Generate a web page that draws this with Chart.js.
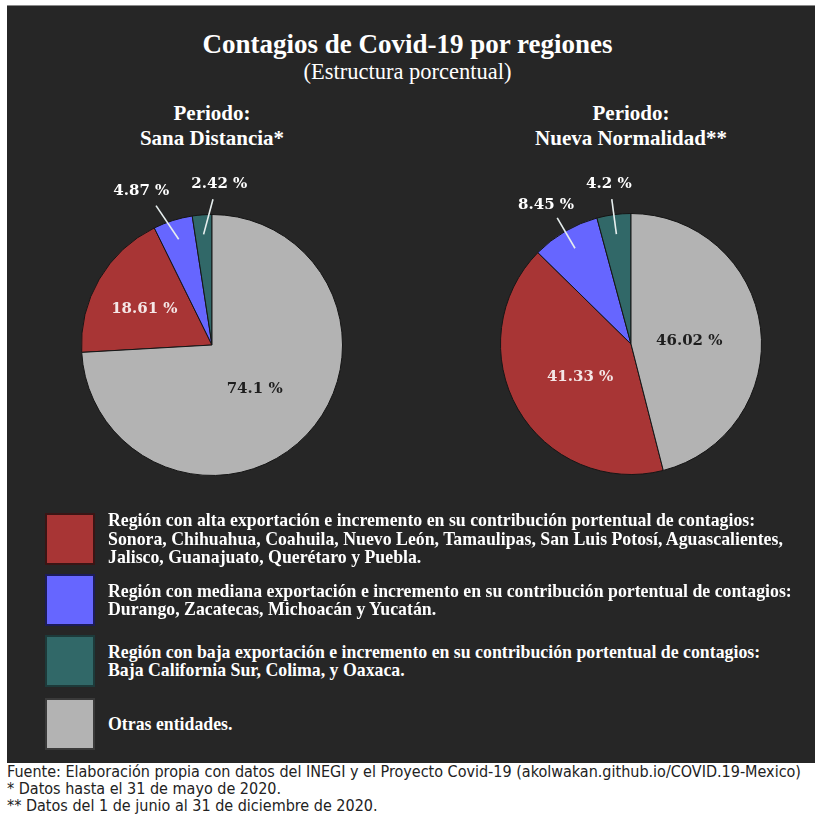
<!DOCTYPE html>
<html>
<head>
<meta charset="utf-8">
<script src="https://cdn.jsdelivr.net/npm/chart.js@4"></script>
<style>
  body { margin: 0; background: #fff; width: 815px; height: 822px; position: relative; overflow: hidden; }
  #panel { position: absolute; left: 7px; top: 5px; width: 808px; height: 757px; background: #262626; border-top: 1px solid #8a8a8a; }
  .t { position: absolute; color: #fff; font-family: "Liberation Serif", serif; font-weight: bold; text-align: center; white-space: nowrap; }
  canvas { position: absolute; }
  .sw { position: absolute; left: 45px; width: 50px; height: 52px; box-sizing: border-box; }
  .lg { position: absolute; left: 108px; height: 54px; display: flex; align-items: center; color: #fff;
        font-family: "Liberation Serif", serif; font-weight: bold; font-size: 17.8px; line-height: 18.5px; white-space: nowrap; }
  .foot { position: absolute; left: 7px; color: #222; font-family: "Liberation Sans Narrow", "DejaVu Sans Condensed", sans-serif; font-size: 16px; white-space: nowrap; }
</style>
</head>
<body>
<div id="panel"></div>
<div class="t" style="left:0;width:815px;top:29px;font-size:27px;">Contagios de Covid-19 por regiones</div>
<div class="t" style="left:0;width:815px;top:59px;font-size:22.5px;font-weight:normal;">(Estructura porcentual)</div>
<div class="t" style="left:62px;width:300px;top:101px;font-size:21px;line-height:25px;">Periodo:<br>Sana Distancia*</div>
<div class="t" style="left:481px;width:300px;top:101px;font-size:21px;line-height:25px;">Periodo:<br>Nueva Normalidad**</div>
<canvas id="c1" width="340" height="340" style="left:42px;top:175px;width:340px;height:340px;"></canvas>
<canvas id="c2" width="340" height="340" style="left:461px;top:174px;width:340px;height:340px;"></canvas>
<div id="legend"></div>
<div class="foot" style="top:762px;">Fuente: Elaboración propia con datos del INEGI y el Proyecto Covid-19 (akolwakan.github.io/COVID.19-Mexico)</div>
<div class="foot" style="top:779px;">* Datos hasta el 31 de mayo de 2020.</div>
<div class="foot" style="top:796px;">** Datos del 1 de junio al 31 de diciembre de 2020.</div>
<script>
const categories = [
  'Región con alta exportación e incremento en su contribución portentual de contagios:<br>Sonora, Chihuahua, Coahuila, Nuevo León, Tamaulipas, San Luis Potosí, Aguascalientes,<br>Jalisco, Guanajuato, Querétaro y Puebla.',
  'Región con mediana exportación e incremento en su contribución portentual de contagios:<br>Durango, Zacatecas, Michoacán y Yucatán.',
  'Región con baja exportación e incremento en su contribución portentual de contagios:<br>Baja California Sur, Colima, y Oaxaca.',
  'Otras entidades.'
]
const sanaDistancia = [18.61, 4.87, 2.42, 74.1]
const nuevaNormalidad = [41.33, 8.45, 4.2, 46.02]
const colors = ['#a83535', '#6666ff', '#316868', '#b3b3b3']
const swatchBorders = ['#3a1515', '#1c1c5a', '#1d3a3a', '#3a3a3a']

// legend (html, same order as data)
const legend = document.getElementById('legend')
const legendTops = [512, 573, 634, 697]
categories.forEach((c, i) => {
  const sw = document.createElement('div')
  sw.className = 'sw'
  sw.style.top = (legendTops[i] + 1) + 'px'
  sw.style.background = colors[i]
  sw.style.border = '2px solid ' + swatchBorders[i]
  legend.appendChild(sw)
  const tx = document.createElement('div')
  tx.className = 'lg'
  tx.style.top = legendTops[i] + 'px'
  tx.innerHTML = '<div>' + c + '</div>'
  legend.appendChild(tx)
})

// percent labels: inside for big slices, outside with leader line for small ones
const pieLabels = {
  id: 'pieLabels',
  afterDatasetsDraw(chart) {
    const ctx = chart.ctx
    const meta = chart.getDatasetMeta(0)
    const values = chart.data.datasets[0].data
    ctx.save()
    ctx.font = 'bold 15px "DejaVu Serif", serif'
    ctx.textAlign = 'center'
    ctx.textBaseline = 'middle'
    const outside = []
    meta.data.forEach((arc, i) => {
      const p = arc.getProps(['x', 'y', 'startAngle', 'endAngle', 'outerRadius'])
      const mid = (p.startAngle + p.endAngle) / 2
      const dx = Math.cos(mid), dy = Math.sin(mid)
      const txt = values[i] + ' %'
      if (values[i] > 10) {
        const f = values[i] > 40 ? 0.45 : 0.6
        ctx.fillStyle = i === 3 ? '#1e1e1e' : '#f4e6e6'
        ctx.fillText(txt, p.x + dx * p.outerRadius * f, p.y + dy * p.outerRadius * f + 4)
      } else {
        const ax = p.x + dx * p.outerRadius * 1.12, ay = p.y + dy * p.outerRadius * 1.12
        outside.push({
          txt, w: ctx.measureText(txt).width,
          ix: p.x + dx * p.outerRadius * 0.85, iy: p.y + dy * p.outerRadius * 0.85,
          ax, ay, lx: ax + dx * 22, ly: ay + dy * 15
        })
      }
    })
    // push apart overlapping outside labels
    outside.sort((a, b) => a.lx - b.lx)
    for (let k = 1; k < outside.length; k++) {
      const a = outside[k - 1], b = outside[k]
      const need = (a.w + b.w) / 2 + 22
      if (b.lx - a.lx < need && Math.abs(b.ly - a.ly) < 18) {
        const push = (need - (b.lx - a.lx)) / 2
        a.lx -= push; b.lx += push
        a.ax -= push * 0.6; b.ax += push * 0.6
      }
    }
    outside.forEach(o => {
      ctx.strokeStyle = '#e6eeee'
      ctx.lineWidth = 1.6
      ctx.beginPath()
      ctx.moveTo(o.ix, o.iy)
      ctx.lineTo(o.ax, o.ay)
      ctx.stroke()
      ctx.fillStyle = '#ffffff'
      ctx.fillText(o.txt, o.lx, o.ly)
    })
    ctx.restore()
  }
}

function makePie(id, values) {
  // start so that the last three slices end at 12 o'clock, like the original
  const before = values.slice(0, 3).reduce((s, v) => s + v, 0)
  return new Chart(document.getElementById(id), {
    type: 'pie',
    data: {
      labels: categories,
      datasets: [{
        data: values,
        backgroundColor: colors,
        borderColor: '#161616',
        borderWidth: 1
      }]
    },
    options: {
      responsive: false,
      animation: false,
      rotation: -before * 3.6,
      layout: { padding: 39 },
      plugins: {
        legend: { display: false },
        tooltip: { enabled: false }
      }
    },
    plugins: [pieLabels]
  })
}

makePie('c1', sanaDistancia)
makePie('c2', nuevaNormalidad)
</script>
</body>
</html>
